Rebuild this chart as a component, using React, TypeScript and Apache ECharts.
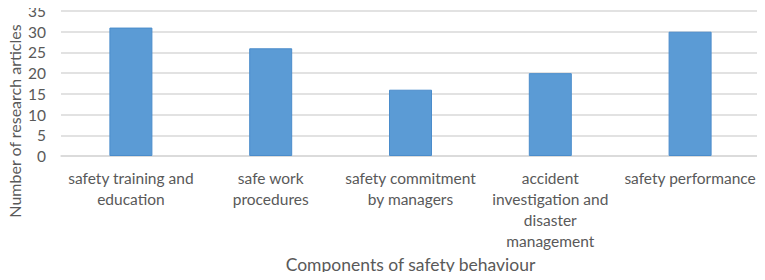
import React, { useEffect, useRef } from "react";
import * as echarts from "echarts";

const categories = [
  "safety training and\neducation",
  "safe work\nprocedures",
  "safety commitment\nby managers",
  "accident\ninvestigation and\ndisaster\nmanagement",
  "safety performance",
];
const values = [31, 26, 16, 20, 30];
const yTicks = { min: 0, max: 35, interval: 5 };
const xTitle = "Components of safety behaviour";
const yTitle = "Number of research articles";

export default function App() {
  const ref = useRef<HTMLDivElement>(null);
  useEffect(() => {
    if (!ref.current) return;
    const chart = echarts.init(ref.current, null, { renderer: "svg" });
    const font = "Lato, sans-serif";
    chart.setOption({
      animation: false,
      textStyle: { fontFamily: font },
      grid: { left: 61, right: 5, top: 11, bottom: 124, outerBoundsMode: "none", containLabel: false },
      graphic: [
        {
          type: "text",
          x: 14,
          y: 121,
          rotation: Math.PI / 2,
          style: {
            text: yTitle,
            fontSize: 16,
            fontFamily: font,
            fill: "#595959",
            align: "center",
            verticalAlign: "middle",
          },
        },
      ],
      xAxis: {
        type: "category",
        data: categories,
        name: xTitle,
        nameLocation: "middle",
        nameGap: 96,
        nameTextStyle: { fontSize: 17.5, color: "#595959", fontFamily: font },
        axisLine: { lineStyle: { color: "#d9d9d9", width: 1.5 } },
        axisTick: { show: false },
        axisLabel: {
          color: "#595959",
          fontSize: 15.5,
          lineHeight: 21,
          margin: 11,
          interval: 0,
          fontFamily: font,
        },
      },
      yAxis: {
        type: "value",
        min: yTicks.min,
        max: yTicks.max,
        interval: yTicks.interval,
        axisLine: { show: false },
        axisTick: { show: false },
        axisLabel: { color: "#595959", fontSize: 15.5, margin: 15, fontFamily: font },
        splitLine: { lineStyle: { color: "#d9d9d9", width: 1.5 } },
      },
      series: [
        {
          type: "bar",
          data: values,
          barWidth: 43,
          itemStyle: { color: "#5b9bd5", borderColor: "#4a8ccb", borderWidth: 1 },
        },
      ],
    });
    return () => chart.dispose();
  }, []);
  return <div ref={ref} style={{ width: 765, height: 280, margin: -8 }} />;
}
